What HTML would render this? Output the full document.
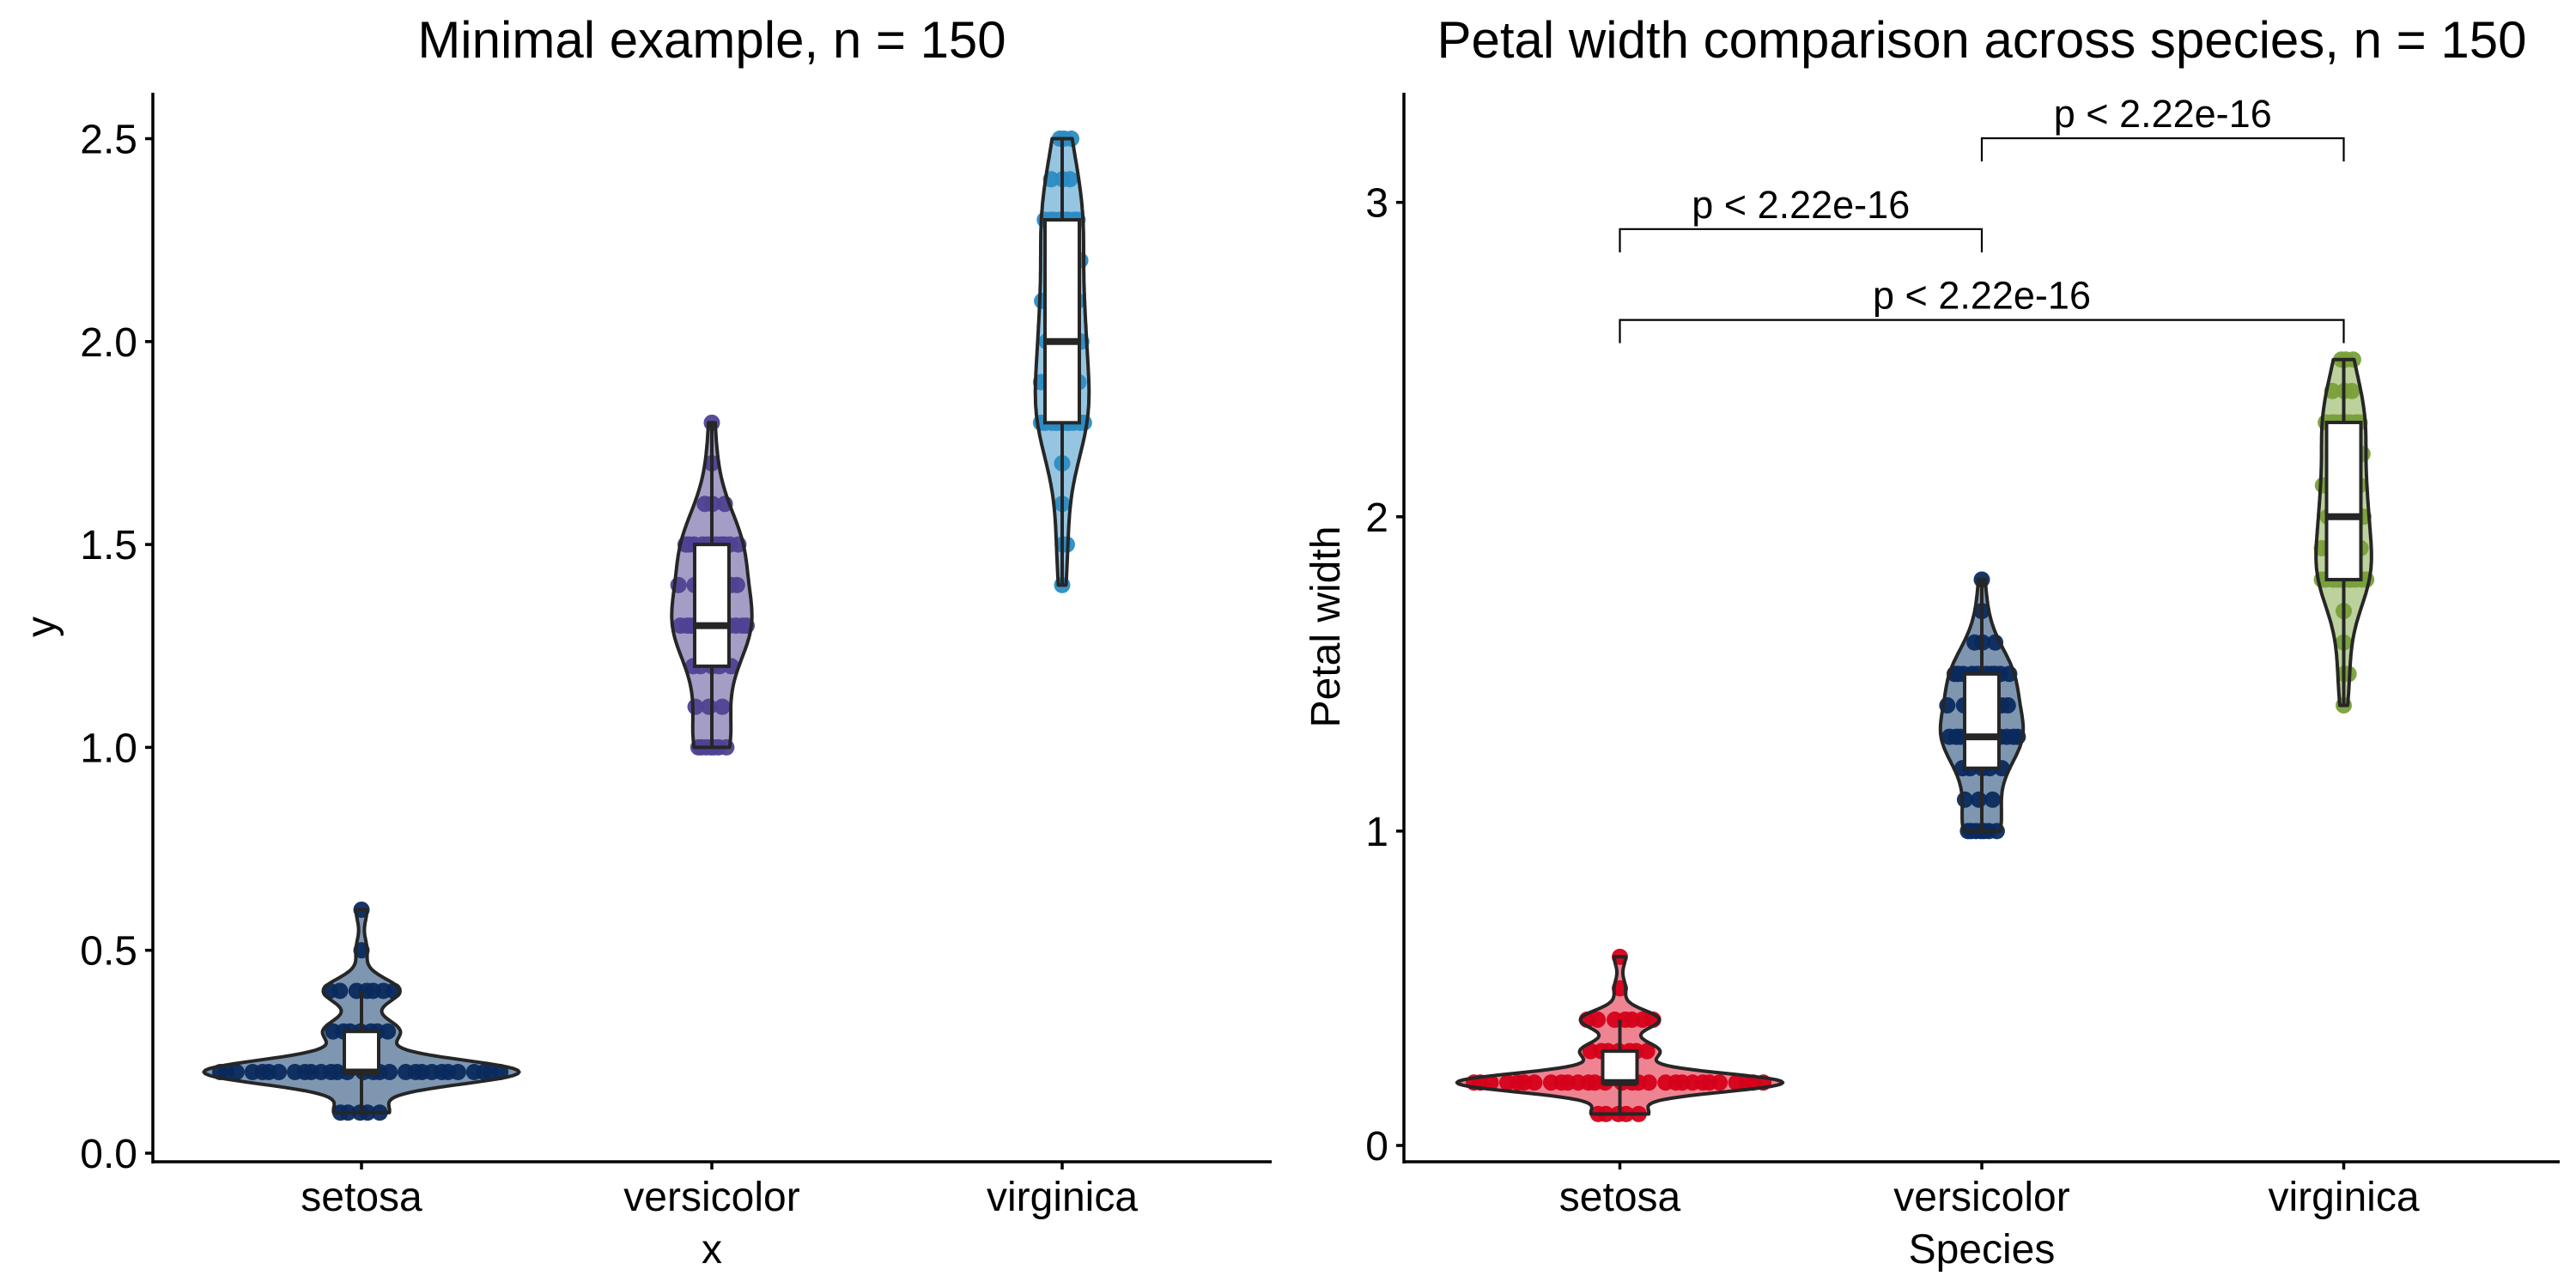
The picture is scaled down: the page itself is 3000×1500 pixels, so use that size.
<!DOCTYPE html>
<html><head><meta charset="utf-8"><style>
html,body{margin:0;padding:0;background:#fff;}
svg{display:block;font-family:"Liberation Sans",Arial,sans-serif;}
</style></head>
<body>
<svg id="chart" width="3000" height="1500" viewBox="0 0 3000 1500" xmlns="http://www.w3.org/2000/svg"></svg>
<script>
// ---- data (iris Petal.Width, counts per value) ----
const categories = ["setosa","versicolor","virginica"];
const setosaValues = [0.1,0.2,0.3,0.4,0.5,0.6];
const setosaCounts = [5,29,7,7,1,1];
const versicolorValues = [1.0,1.1,1.2,1.3,1.4,1.5,1.6,1.7,1.8];
const versicolorCounts = [7,3,5,13,7,10,3,1,1];
const virginicaValues = [1.4,1.5,1.6,1.7,1.8,1.9,2.0,2.1,2.2,2.3,2.4,2.5];
const virginicaCounts = [1,2,1,1,11,5,6,6,3,8,3,3];
const leftTicks = [0,0.5,1,1.5,2,2.5];
const leftTickLabels = ["0.0","0.5","1.0","1.5","2.0","2.5"];
const rightTicks = [0,1,2,3];
const rightTickLabels = ["0","1","2","3"];
const pGroups1 = [0,1,0];   // from-category index
const pGroups2 = [1,2,2];   // to-category index
const pYValues = [2.915,3.204,2.626];
const pLabels = ["p < 2.22e-16","p < 2.22e-16","p < 2.22e-16"];

const NS = "http://www.w3.org/2000/svg";
const svg = document.getElementById("chart");
function mk(tag, attrs, parent){
  const e = document.createElementNS(NS, tag);
  for (const k in attrs) e.setAttribute(k, attrs[k]);
  (parent||svg).appendChild(e);
  return e;
}
function expand(vals, counts){const a=[];vals.forEach((v,i)=>{for(let k=0;k<counts[i];k++)a.push(v);});return a;}
const groups = [expand(setosaValues,setosaCounts),expand(versicolorValues,versicolorCounts),expand(virginicaValues,virginicaCounts)];
function quantile(s,p){const h=(s.length-1)*p,lo=Math.floor(h),hi=Math.ceil(h);return s[lo]+(s[hi]-s[lo])*(h-lo);}
function stats(arr){
  const s=[...arr].sort((a,b)=>a-b);const n=s.length;
  const mean=s.reduce((a,b)=>a+b,0)/n;
  const sd=Math.sqrt(s.reduce((a,b)=>a+(b-mean)**2,0)/(n-1));
  const q1=quantile(s,0.25),q3=quantile(s,0.75),med=quantile(s,0.5);
  const iqr=q3-q1;
  const bw=0.9*Math.min(sd,iqr/1.34)*Math.pow(n,-0.2);
  const lf=q1-1.5*iqr,uf=q3+1.5*iqr;
  const wlo=Math.min(...s.filter(v=>v>=lf)),whi=Math.max(...s.filter(v=>v<=uf));
  return {s,n,q1,q3,med,bw,wlo,whi,min:s[0],max:s[n-1]};
}
function dens(st,y){let d=0;for(const v of st.s){const z=(y-v)/st.bw;d+=Math.exp(-0.5*z*z);}return d/(st.n*st.bw*Math.sqrt(2*Math.PI));}
const ST = groups.map(stats);
const maxD = Math.max(...ST.map(st=>{let m=0;for(let i=0;i<=200;i++){const y=st.min+(st.max-st.min)*i/200;m=Math.max(m,dens(st,y));}return m;}));

function panel(cfg){
  const g = mk("g",{});
  
  
  const yS = v => cfg.y0 - v*cfg.yk;
  const xS = i => cfg.x0 + i*cfg.dx;
  const t = mk("text",{x:cfg.titleX,y:67,"font-size":"60","text-anchor":"middle",fill:"#000"},g);
  t.textContent = cfg.title;
  
  
  const halfMax = 0.45*cfg.dx;
  categories.forEach((c,i)=>{
    const st=ST[i], cx=xS(i);
    const vg = mk("g",{},g);
    
    
    const N=120; const L=[],R=[];
    for(let k=0;k<=N;k++){const y=st.min+(st.max-st.min)*k/N;const w=dens(st,y)/maxD*halfMax;R.push([cx+w,yS(y)]);L.push([cx-w,yS(y)]);}
    const pts=R.concat(L.reverse()).map(p=>p[0].toFixed(1)+","+p[1].toFixed(1)).join(" ");
    const fill = mk("polygon",{points:pts,fill:cfg.fills[i],stroke:"none"},vg);
    
    
    let idx=0;
    for(const v of [...new Set(st.s)]){
      const cnt=st.s.filter(x=>x===v).length;
      const w=dens(st,v)/maxD*halfMax*0.92;
      for(let k=0;k<cnt;k++){
        idx++;
        const fr = ((idx+i*3)*0.6180339887)%1;
        const f = cnt===1?0:fr*2-1;
        const p = mk("circle",{cx:cx+f*w,cy:yS(v),r:9.5,fill:cfg.cols[i],"fill-opacity":"0.95"},vg);
        
        
      }
    }
    const ol = mk("polygon",{points:pts,fill:"none",stroke:"#262626","stroke-width":"4","stroke-linejoin":"round"},vg);
    
    
    const bw=20;
    const bx = mk("g",{},vg);
    
    
    mk("line",{x1:cx,x2:cx,y1:yS(st.whi),y2:yS(st.q3),stroke:"#262626","stroke-width":"4"},bx);
    mk("line",{x1:cx,x2:cx,y1:yS(st.q1),y2:yS(st.wlo),stroke:"#262626","stroke-width":"4"},bx);
    mk("rect",{x:cx-bw,y:yS(st.q3),width:2*bw,height:Math.max(0,yS(st.q1)-yS(st.q3)),fill:"#fff",stroke:"#262626","stroke-width":"4"},bx);
    mk("line",{x1:cx-bw,x2:cx+bw,y1:yS(st.med),y2:yS(st.med),stroke:"#262626","stroke-width":"8"},bx);
  });
  const ax = mk("line",{x1:cfg.axX,x2:cfg.axX,y1:108,y2:1355,stroke:"#000","stroke-width":"3.5"},g);
  
  
  const axx = mk("line",{x1:cfg.axX-1.5,x2:cfg.xEnd,y1:1353,y2:1353,stroke:"#000","stroke-width":"3.5"},g);
  
  
  cfg.ticks.forEach((v,i)=>{
    mk("line",{x1:cfg.axX-9,x2:cfg.axX,y1:yS(v),y2:yS(v),stroke:"#000","stroke-width":"3.5"},g);
    const tl = mk("text",{x:cfg.axX-18,y:yS(v)+17,"font-size":"48","text-anchor":"end",fill:"#000"},g);
    tl.textContent = cfg.tickLabels[i];
    
    
  });
  categories.forEach((c,i)=>{
    mk("line",{x1:xS(i),x2:xS(i),y1:1353,y2:1362,stroke:"#000","stroke-width":"3.5"},g);
    const tl = mk("text",{x:xS(i),y:1410,"font-size":"48","text-anchor":"middle",fill:"#000"},g);
    tl.textContent = c;
    
    
  });
  const xl = mk("text",{x:xS(1),y:1471,"font-size":"48","text-anchor":"middle",fill:"#000"},g);
  xl.textContent = cfg.xLabel;
  
  
  const yl = mk("text",{x:0,y:0,"font-size":"48","text-anchor":"middle",fill:"#000",transform:`translate(${cfg.yLabelX},730) rotate(-90)`},g);
  yl.textContent = cfg.yLabel;
  
  
  return {g,xS,yS};
}

panel({name:"left-panel",title:"Minimal example, n = 150",titleX:829,x0:421,dx:408,y0:1343,yk:472.6,axX:178,xEnd:1481,
  ticks:leftTicks,tickLabels:leftTickLabels,xLabel:"x",yLabel:"y",yLabelX:64,
  fills:["rgba(0,45,100,0.5)","rgba(74,59,140,0.5)","rgba(43,140,196,0.5)"],
  cols:["#0b2a5e","#4f4293","#2b8cc4"]});
const R = panel({name:"right-panel",title:"Petal width comparison across species, n = 150",titleX:2308,x0:1886.5,dx:421.5,y0:1334,yk:366.1,axX:1635,xEnd:2981,
  ticks:rightTicks,tickLabels:rightTickLabels,xLabel:"Species",yLabel:"Petal width",yLabelX:1560,
  fills:["rgba(222,10,38,0.5)","rgba(0,45,100,0.5)","rgba(122,164,58,0.5)"],
  cols:["#d5001a","#0b2a5e","#79a03a"]});
pYValues.forEach((v,i)=>{
  const x1=R.xS(pGroups1[i]), x2=R.xS(pGroups2[i]), y=R.yS(v);
  const b = mk("g",{});
  
  
  mk("polyline",{points:`${x1},${y+27} ${x1},${y} ${x2},${y} ${x2},${y+27}`,fill:"none",stroke:"#000","stroke-width":"2.2"},b);
  const t = mk("text",{x:(x1+x2)/2,y:y-13,"font-size":"45","text-anchor":"middle",fill:"#000"},b);
  t.textContent = pLabels[i];
  
  
});
</script>
</body></html>
